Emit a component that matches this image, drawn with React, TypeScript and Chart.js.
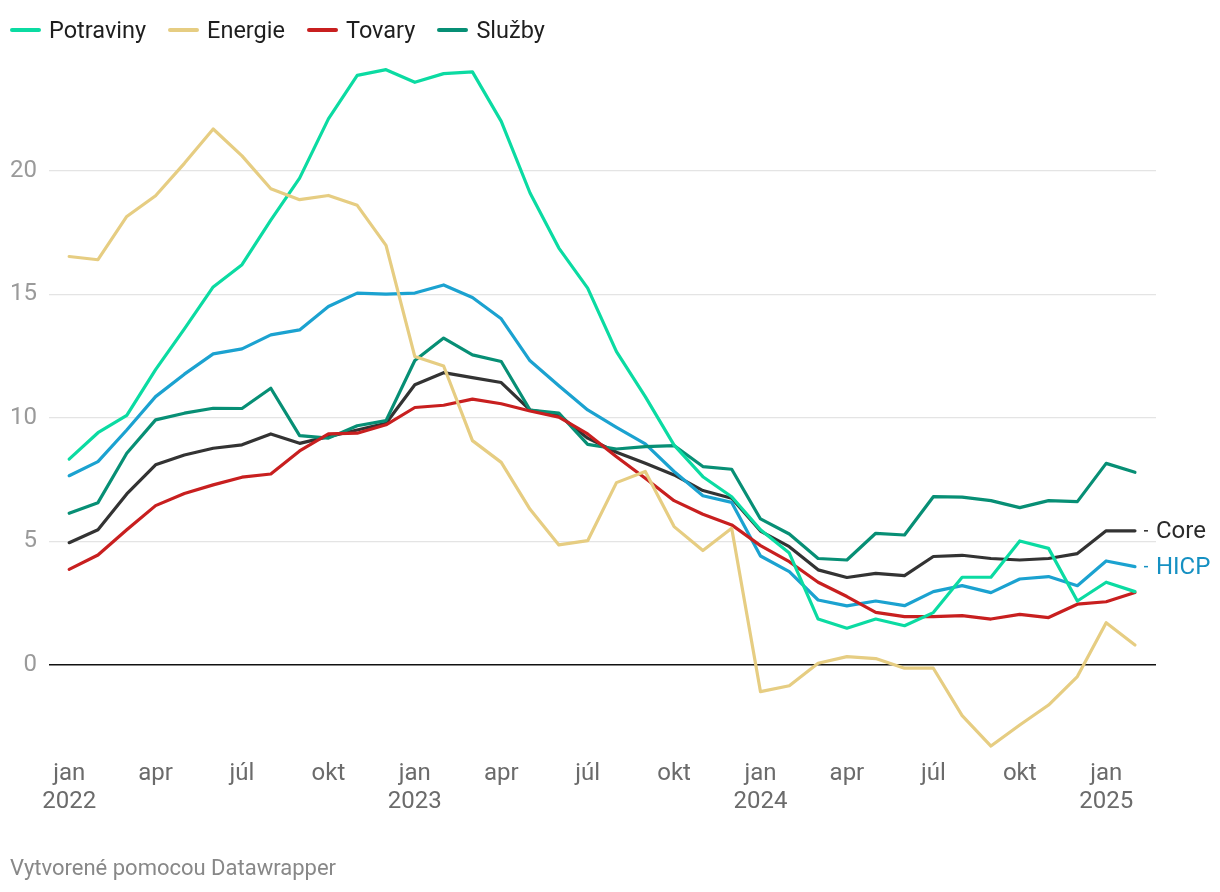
import React, { useEffect, useRef } from "react";
import { Chart, registerables } from "chart.js";

Chart.register(...registerables);

// ---- Data ----
const years = ["2022", "2023", "2024", "2025"];
const monthNames = ["jan", "feb", "mar", "apr", "máj", "jún", "júl", "aug", "sep", "okt", "nov", "dec"];
const categories: string[] = [];
for (let i = 0; i < 38; i++) {
  categories.push(monthNames[i % 12] + " " + years[Math.floor(i / 12)]);
}

const potraviny = [8.33, 9.4, 10.1, 11.95, 13.6, 15.3, 16.2, 18.0, 19.7, 22.1, 23.86, 24.09, 23.58, 23.93, 24.0, 22.0, 19.1, 16.87, 15.25, 12.68, 10.86, 8.9, 7.62, 6.81, 5.47, 4.53, 1.86, 1.49, 1.86, 1.59, 2.12, 3.55, 3.55, 5.02, 4.72, 2.59, 3.35, 2.97];
const energie = [16.53, 16.4, 18.15, 18.99, 20.3, 21.69, 20.6, 19.27, 18.83, 19.0, 18.6, 16.98, 12.48, 12.1, 9.08, 8.2, 6.3, 4.86, 5.03, 7.38, 7.83, 5.6, 4.63, 5.53, -1.08, -0.84, 0.07, 0.34, 0.26, -0.13, -0.13, -2.05, -3.28, -2.43, -1.62, -0.47, 1.71, 0.81];
const tovary = [3.87, 4.45, 5.47, 6.45, 6.94, 7.29, 7.6, 7.73, 8.66, 9.35, 9.38, 9.72, 10.42, 10.51, 10.76, 10.57, 10.28, 10.03, 9.35, 8.43, 7.56, 6.65, 6.1, 5.67, 4.83, 4.18, 3.35, 2.77, 2.13, 1.96, 1.96, 2.0, 1.86, 2.05, 1.92, 2.46, 2.56, 2.93];
const sluzby = [6.14, 6.57, 8.57, 9.92, 10.19, 10.39, 10.38, 11.2, 9.28, 9.18, 9.68, 9.89, 12.32, 13.23, 12.55, 12.28, 10.32, 10.19, 8.93, 8.74, 8.84, 8.88, 8.03, 7.92, 5.91, 5.3, 4.31, 4.25, 5.33, 5.26, 6.81, 6.79, 6.65, 6.37, 6.65, 6.61, 8.16, 7.8];
const hicp = [7.66, 8.23, 9.51, 10.86, 11.77, 12.59, 12.79, 13.36, 13.56, 14.51, 15.05, 15.01, 15.05, 15.38, 14.87, 14.01, 12.31, 11.3, 10.32, 9.62, 8.95, 7.83, 6.85, 6.58, 4.41, 3.78, 2.63, 2.39, 2.59, 2.4, 2.97, 3.21, 2.93, 3.48, 3.58, 3.21, 4.21, 3.98];
const core = [4.95, 5.47, 6.92, 8.1, 8.5, 8.77, 8.91, 9.35, 8.97, 9.24, 9.51, 9.78, 11.34, 11.83, 11.63, 11.43, 10.32, 10.12, 9.18, 8.61, 8.16, 7.69, 7.06, 6.75, 5.42, 4.79, 3.85, 3.54, 3.71, 3.62, 4.39, 4.44, 4.31, 4.25, 4.31, 4.51, 5.43, 5.43];

const yTicks = [0, 5, 10, 15, 20];
const xTickIndexes = [0, 3, 6, 9, 12, 15, 18, 21, 24, 27, 30, 33, 36];

// ---- Styles ----
const FONT = "Roboto";
const colors = {
  potraviny: "#0bdba2",
  energie: "#e6cd82",
  tovary: "#c81f1f",
  sluzby: "#078f75",
  hicp: "#1ba2d0",
  core: "#333333",
};

const legendItems = [
  { label: "Potraviny", color: colors.potraviny },
  { label: "Energie", color: colors.energie },
  { label: "Tovary", color: colors.tovary },
  { label: "Služby", color: colors.sluzby },
];

const toPoints = (arr: number[]) => arr.map((v, i) => ({ x: i, y: v }));

const endLabels = {
  id: "endLabels",
  afterDatasetsDraw(chart: any) {
    const ctx = chart.ctx;
    chart.data.datasets.forEach((ds: any, di: number) => {
      if (!ds.endLabel) return;
      const meta = chart.getDatasetMeta(di);
      const pt = meta.data[meta.data.length - 1];
      if (!pt) return;
      ctx.save();
      ctx.strokeStyle = ds.endLabelColor;
      ctx.lineWidth = 1.5;
      ctx.beginPath();
      ctx.moveTo(pt.x + 9, pt.y);
      ctx.lineTo(pt.x + 13, pt.y);
      ctx.stroke();
      ctx.fillStyle = ds.endLabelColor;
      ctx.font = `24px ${FONT}`;
      ctx.textAlign = "left";
      ctx.textBaseline = "middle";
      ctx.fillText(ds.endLabel, pt.x + 21, pt.y + 1);
      ctx.restore();
    });
  },
};

export default function App() {
  const canvasRef = useRef<HTMLCanvasElement | null>(null);

  useEffect(() => {
    if (!canvasRef.current) return;
    const mk = (label: string, data: number[], color: string, extra: any = {}) => ({
      label,
      data: toPoints(data),
      borderColor: color,
      backgroundColor: color,
      borderWidth: 3.2,
      pointRadius: 0,
      pointHoverRadius: 0,
      tension: 0,
      borderCapStyle: "round",
      borderJoinStyle: "round",
      fill: false,
      ...extra,
    });

    const chart = new Chart(canvasRef.current, {
      type: "line",
      data: {
        datasets: [
          mk("Energie", energie, colors.energie),
          mk("Potraviny", potraviny, colors.potraviny),
          mk("Tovary", tovary, colors.tovary),
          mk("Služby", sluzby, colors.sluzby),
          mk("HICP", hicp, colors.hicp, { endLabel: "HICP", endLabelColor: "#1590c2" }),
          mk("Core", core, colors.core, { endLabel: "Core", endLabelColor: "#2a2a2a" }),
        ] as any,
      },
      plugins: [endLabels],
      options: {
        animation: false,
        responsive: true,
        maintainAspectRatio: false,
        events: [],
        layout: { padding: { top: 64, right: 64, left: 0, bottom: 0 } },
        plugins: {
          legend: { display: false },
          tooltip: { enabled: false },
          title: { display: false },
        },
        scales: {
          x: {
            type: "linear",
            min: -0.7,
            max: 37.73,
            border: { display: false },
            grid: { display: false, drawTicks: false },
            afterFit: (scale: any) => {
              scale.height = 141;
            },
            afterBuildTicks: (scale: any) => {
              scale.ticks = xTickIndexes.map((v) => ({ value: v }));
            },
            ticks: {
              autoSkip: false,
              maxRotation: 0,
              padding: 9,
              color: "#6b6b6b",
              font: { family: FONT, size: 24, lineHeight: 1.17 },
              callback: (value: any) => {
                const i = Number(value);
                const [m, y] = categories[i].split(" ");
                return m === "jan" ? [m, y] : m;
              },
            },
          },
          y: {
            type: "linear",
            min: -3.48,
            max: 24.32,
            border: { display: false },
            afterFit: (scale: any) => {
              scale.width = 49;
            },
            afterBuildTicks: (scale: any) => {
              scale.ticks = yTicks.map((v) => ({ value: v }));
            },
            grid: {
              drawTicks: false,
              tickLength: 0,
              color: (ctx: any) => (ctx.tick && ctx.tick.value === 0 ? "#111111" : "#e4e4e4"),
              lineWidth: (ctx: any) => (ctx.tick && ctx.tick.value === 0 ? 1.6 : 1.2),
            },
            ticks: {
              padding: 12,
              color: "#9a9a9a",
              font: { family: FONT, size: 24 },
              callback: (v: any) => String(v),
            },
          },
        },
      } as any,
    });
    return () => chart.destroy();
  }, []);

  return (
    <div style={{ position: "absolute", left: 0, top: 0, width: 1220, height: 892, background: "#fff", fontFamily: FONT }}>
      <div style={{ position: "absolute", left: 0, top: 0, width: 1220, height: 892 }}>
        <canvas ref={canvasRef} />
      </div>
      <div style={{ position: "absolute", left: 10, top: 15, display: "flex", alignItems: "center", whiteSpace: "nowrap" }}>
        {legendItems.map((it) => (
          <div key={it.label} style={{ display: "flex", alignItems: "center", marginRight: 22 }}>
            <span style={{ display: "inline-block", width: 31, height: 4, borderRadius: 2, background: it.color, marginRight: 8 }} />
            <span style={{ fontSize: 23.5, color: "#1e1e1e", lineHeight: "30px" }}>{it.label}</span>
          </div>
        ))}
      </div>
      <div style={{ position: "absolute", left: 10, top: 855, fontSize: 22, color: "#888888", whiteSpace: "nowrap" }}>
        Vytvorené pomocou Datawrapper
      </div>
    </div>
  );
}
